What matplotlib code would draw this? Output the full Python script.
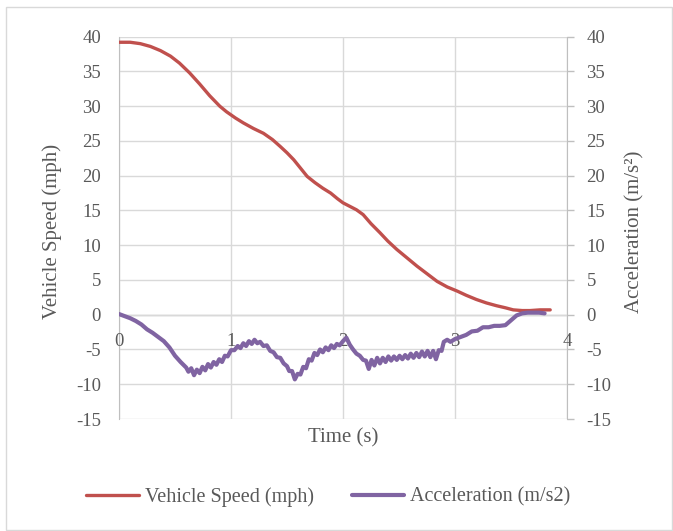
import numpy as np
import matplotlib.pyplot as plt
from matplotlib.patches import Rectangle

plt.rcParams['font.family'] = ['Liberation Serif', 'DejaVu Serif']
plt.rcParams['axes.unicode_minus'] = False

# vehicle speed (mph)
speed_t = [0.00, 0.10, 0.19, 0.28, 0.37, 0.46, 0.54, 0.63, 0.72, 0.81, 0.90,
           0.96, 1.04, 1.11, 1.20, 1.29, 1.37, 1.44, 1.50, 1.56, 1.62, 1.68,
           1.75, 1.82, 1.89, 1.95, 2.00, 2.06, 2.12, 2.18, 2.25, 2.33, 2.40,
           2.48, 2.57, 2.66, 2.75, 2.84, 2.93, 3.02, 3.10, 3.19, 3.28, 3.37,
           3.45, 3.52, 3.60, 3.67, 3.76, 3.85]
speed = [39.2, 39.2, 39.0, 38.6, 38.0, 37.2, 36.2, 34.8, 33.2, 31.5, 30.0,
         29.2, 28.3, 27.6, 26.8, 26.1, 25.2, 24.2, 23.3, 22.3, 21.1, 19.9,
         19.0, 18.2, 17.5, 16.7, 16.1, 15.6, 15.1, 14.4, 13.1, 11.8, 10.6,
         9.4, 8.2, 7.0, 5.9, 4.8, 4.0, 3.4, 2.8, 2.2, 1.7, 1.3, 1.0, 0.7,
         0.6, 0.6, 0.7, 0.7]

# acceleration (m/s2)
accel_t = [0.00, 0.05, 0.10, 0.15, 0.20, 0.25, 0.30, 0.35, 0.40, 0.45, 0.50,
           0.55, 0.60, 0.62, 0.645, 0.67, 0.695, 0.72, 0.745, 0.77, 0.795,
           0.82, 0.845, 0.87, 0.895, 0.92, 0.945, 0.97, 1.00, 1.03, 1.06,
           1.085, 1.11, 1.135, 1.16, 1.185, 1.21, 1.235, 1.26, 1.29, 1.32,
           1.35, 1.38, 1.41, 1.44, 1.47, 1.50, 1.52, 1.545, 1.57, 1.595, 1.62,
           1.645, 1.67, 1.695, 1.72, 1.745, 1.77, 1.795, 1.82, 1.845, 1.87,
           1.895, 1.92, 1.945, 1.97, 2.00, 2.03, 2.06, 2.09, 2.12, 2.15, 2.18,
           2.205, 2.23, 2.255, 2.28, 2.305, 2.33, 2.355, 2.38, 2.405, 2.43,
           2.455, 2.48, 2.505, 2.53, 2.555, 2.58, 2.605, 2.63, 2.655, 2.68,
           2.705, 2.73, 2.755, 2.78, 2.805, 2.83, 2.855, 2.88, 2.90, 2.93,
           2.96, 3.00, 3.05, 3.10, 3.15, 3.20, 3.25, 3.30, 3.35, 3.40, 3.45,
           3.50, 3.55, 3.60, 3.65, 3.70, 3.75, 3.80]
accel = [0.1, -0.2, -0.5, -0.9, -1.4, -2.1, -2.6, -3.2, -3.8, -4.7, -5.9,
         -6.8, -7.6, -8.2, -7.7, -8.7, -7.9, -8.4, -7.5, -8.0, -7.1,
         -7.6, -6.8, -7.2, -6.4, -6.8, -5.9, -6.0, -5.1, -5.1, -4.5,
         -4.8, -4.1, -4.5, -3.8, -4.2, -3.6, -4.1, -3.9, -4.5, -4.4,
         -5.2, -5.4, -6.1, -6.2, -7.0, -7.4, -8.1, -8.1, -9.3, -8.5, -8.6,
         -7.5, -7.7, -6.4, -6.6, -5.5, -5.8, -5.0, -5.4, -4.7, -5.1,
         -4.4, -4.8, -4.2, -4.4, -3.8, -3.3, -4.3, -5.0, -5.6, -5.9, -6.5,
         -6.6, -7.8, -6.5, -7.3, -6.2, -7.0, -6.2, -6.8, -6.0, -6.6,
         -6.0, -6.5, -5.9, -6.4, -5.8, -6.3, -5.6, -6.2, -5.5, -6.1,
         -5.3, -6.0, -5.2, -6.1, -5.2, -6.4, -5.1, -5.2, -3.9, -3.6,
         -3.9, -3.5, -3.2, -2.9, -2.4, -2.3, -1.8, -1.8, -1.6, -1.6, -1.5,
         -0.8, -0.1, 0.2, 0.3, 0.3, 0.3, 0.2]

x_ticks = [0, 1, 2, 3, 4]
y_ticks = list(range(-15, 41, 5))

text_color = '#595959'
grid_color = '#d9d9d9'
axis_color = '#bfbfbf'

fig = plt.figure(figsize=(6.73, 5.31), dpi=100)
fig.patches.append(Rectangle((6 / 673, 1 / 531), 666 / 673, 523 / 531,
                             transform=fig.transFigure, fill=False,
                             edgecolor=grid_color, linewidth=1.0))

ax = fig.add_axes([119 / 673, 1 - 419 / 531, 448 / 673, 382.3 / 531])
ax2 = ax.twinx()

for a in (ax, ax2):
    a.set_xlim(0, 4)
    a.set_ylim(-15, 40)
    a.set_yticks(y_ticks)
    for s in a.spines.values():
        s.set_visible(False)

ax.set_xticks(x_ticks)
ax.tick_params(axis='x', length=0, labelbottom=False)
ax.tick_params(axis='y', length=0, labelsize=13.5, labelcolor=text_color, pad=13)
ax.grid(True, color=grid_color, linewidth=1.0)
ax.axhline(0, color=axis_color, linewidth=1.0, zorder=1)
ax.spines['left'].set_visible(True)
ax.spines['left'].set_color(axis_color)
ax.spines['right'].set_visible(True)
ax.spines['right'].set_color(axis_color)

ax2.tick_params(axis='y', length=5, width=1.0, color=axis_color, labelsize=13.5,
                labelcolor=text_color, pad=9)

for t in x_ticks:
    ax.annotate(str(t), (t, 0), xytext=(0, -19), textcoords='offset points',
                ha='center', va='center', fontsize=13.5, color=text_color)

ax.plot(speed_t, speed, color='#C0504D', linewidth=2.4,
        label='Vehicle Speed (mph)', zorder=3, solid_capstyle='round')
ax2.plot(accel_t, accel, color='#8064A2', linewidth=3.0,
         label='Acceleration (m/s2)', zorder=3, solid_capstyle='round')

ax.set_xlabel('Time (s)', fontsize=15, color=text_color)
ax.xaxis.set_label_coords(0.5, -0.025)
ax.set_ylabel('Vehicle Speed (mph)', fontsize=15, color=text_color)
ax.yaxis.set_label_coords(-0.127, 0.49)
ax2.set_ylabel('Acceleration (m/s²)', fontsize=15, color=text_color)
ax2.yaxis.set_label_coords(1.129, 0.49)

h1, l1 = ax.get_legend_handles_labels()
h2, l2 = ax2.get_legend_handles_labels()
leg = fig.legend(h1 + h2, l1 + l2, loc='center',
                 bbox_to_anchor=(328.5 / 673, 1 - 497 / 531), ncol=2,
                 frameon=False, fontsize=14.5, handlelength=2.6,
                 handletextpad=0.3, columnspacing=1.9)
for txt in leg.get_texts():
    txt.set_color(text_color)

fig.savefig('out.png', dpi=100)
